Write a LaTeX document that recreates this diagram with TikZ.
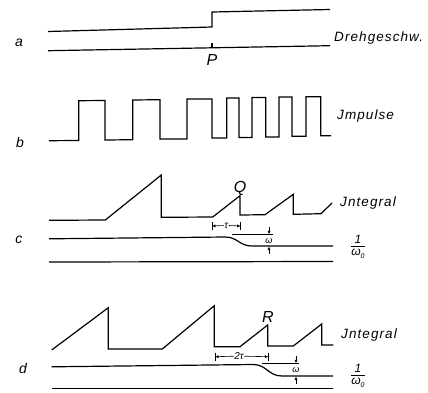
\documentclass[tikz,border=0pt]{standalone}
\usepackage{fontspec}
\setmainfont{Liberation Sans}
\newfontfamily\spaced{Liberation Sans}[LetterSpace=8]
\usetikzlibrary{arrows.meta}
\begin{document}
\begin{tikzpicture}[x=1pt,y=-1pt,
 curve/.style={line width=1.2pt, line join=miter},
 dim/.style={line width=0.6pt},
 tip/.style={-{Latex[length=3.5pt,width=3pt]}, line width=0.6pt},
 lab/.style={font=\fontsize{14}{16}\selectfont\itshape, inner sep=0pt},
 sig/.style={font=\spaced\fontsize{13.5}{15}\selectfont\itshape, anchor=west, inner sep=0pt},
 pointlab/.style={font=\fontsize{16}{18}\selectfont\itshape, inner sep=0pt},
 small/.style={font=\fontsize{10}{11}\selectfont\itshape, inner sep=0.5pt, fill=white},
 frac/.style={font=\fontsize{12}{13}\selectfont\itshape, inner sep=0pt}]
\useasboundingbox (0,0) rectangle (428,392);

% ---------- a ----------
\node[lab] (la) at (19,43) {a};
\draw[curve] (48,31.5) -- (212,27) -- (212,12) -- (330,9.5);
\draw[curve] (48,50.7) -- (330,45.7);
\draw[curve] (212,43) -- (212,47.5);
\node[pointlab] (P) at (212,60) {P};
\node[sig] (dreh) at (334,38) {Drehgeschw.};

% ---------- b ----------
\node[lab] (lb) at (20,142) {b};
\draw[curve] (49,140.7) -- (78.7,140.5) -- (78.7,100.7) -- (105,100.5) -- (105,140)
 -- (132.7,139.7) -- (132.7,100) -- (160,99.7) -- (160,139) -- (187,139) -- (187,99)
 -- (212,99) -- (212,138) -- (226.7,138) -- (226.7,98) -- (239,98) -- (239,137.5)
 -- (252,137.5) -- (252,97.5) -- (265.7,97.5) -- (265.7,137) -- (279,137) -- (279,97)
 -- (292,97) -- (292,136.3) -- (306,136.3) -- (306,96.7) -- (320.7,96.7) -- (320.7,135.7)
 -- (331,135.7);
\node[sig] (imp) at (337,116) {Jmpulse};

% ---------- c ----------
\node[lab] (lc) at (19,240) {c};
\draw[curve] (49,220.3) -- (105.3,220) -- (161.3,175) -- (161.3,217.3) -- (212.7,217)
 -- (240,195.7) -- (240,215) -- (265,214.7) -- (293.3,194.3) -- (293.3,214.3)
 -- (321,213.7) -- (332,203);
\node[sig] (intc) at (340,203) {Jntegral};
\node[pointlab] (Q) at (240,188) {Q};
% tau dimension
\coordinate (t1) at (212,226); \coordinate (t2) at (240.7,226);
\draw[dim] (212,222) -- (212,230);
\draw[dim] (240.7,222) -- (240.7,230);
\node[small] (tau) at (226.3,225.5) {τ};
\draw[tip] (tau.west) -- (t1);
\draw[tip] (tau.east) -- (t2);
% speed curve
\draw[curve] (49,238.8) -- (225,237) .. controls (238,237) and (239,246) .. (252,246) -- (333,246);
\draw[dim,line width=0.8pt] (232,234.3) -- (273,234.3);
\coordinate (c1) at (269,234.3); \coordinate (c2) at (269,246.5);
\draw[tip] (269,227) -- (c1);
\draw[tip] (269,254) -- (c2);
\node[small,fill=none,font=\fontsize{9}{10}\selectfont\itshape] (omc) at (269,241) {ω};
\draw[curve] (49,262) -- (333,261.5);
\node[frac] (fc1) at (358,239.5) {1};
\draw[line width=0.8pt] (351,246.5) -- (365,246.5);
\node[frac] (fc2) at (358,253.5) {ω\raisebox{-0.5ex}{\fontsize{7}{8}\selectfont 0}};

% ---------- d ----------
\node[lab] (ld) at (23,368) {d};
\draw[curve] (51.7,350) -- (108.3,307.7) -- (108.3,349) -- (162.3,349) -- (214.3,305.7)
 -- (214.3,346.7) -- (240,346.7) -- (267.7,325) -- (267.7,346) -- (293.3,346)
 -- (321.7,324) -- (321.7,345) -- (333.3,345);
\node[sig] (intd) at (341,335) {Jntegral};
\node[pointlab] (R) at (268,317) {R};
% 2tau dimension
\coordinate (u1) at (215,356.7); \coordinate (u2) at (268.3,356.7);
\draw[dim] (215,352.5) -- (215,361);
\draw[dim] (268.3,352.5) -- (268.3,361);
\node[small] (ttau) at (239,356.2) {2τ};
\draw[tip] (ttau.west) -- (u1);
\draw[tip] (ttau.east) -- (u2);
% speed curve
\draw[curve] (51.7,366.8) -- (253,364.5) .. controls (267,364.5) and (268,376) .. (282,376) -- (333,376);
\draw[dim,line width=0.8pt] (262,363.3) -- (299,363.3);
\coordinate (d1) at (296,363.3); \coordinate (d2) at (296,376.5);
\draw[tip] (296,356) -- (d1);
\draw[tip] (296,384) -- (d2);
\node[small,fill=none,font=\fontsize{9}{10}\selectfont\itshape] (omd) at (296,370) {ω};
\draw[curve] (51.7,388.5) -- (333,388.5);
\node[frac] (fd1) at (358,368) {1};
\draw[line width=0.8pt] (351,375) -- (365,375);
\node[frac] (fd2) at (358,382.5) {ω\raisebox{-0.5ex}{\fontsize{7}{8}\selectfont 0}};
\end{tikzpicture}
\end{document}
